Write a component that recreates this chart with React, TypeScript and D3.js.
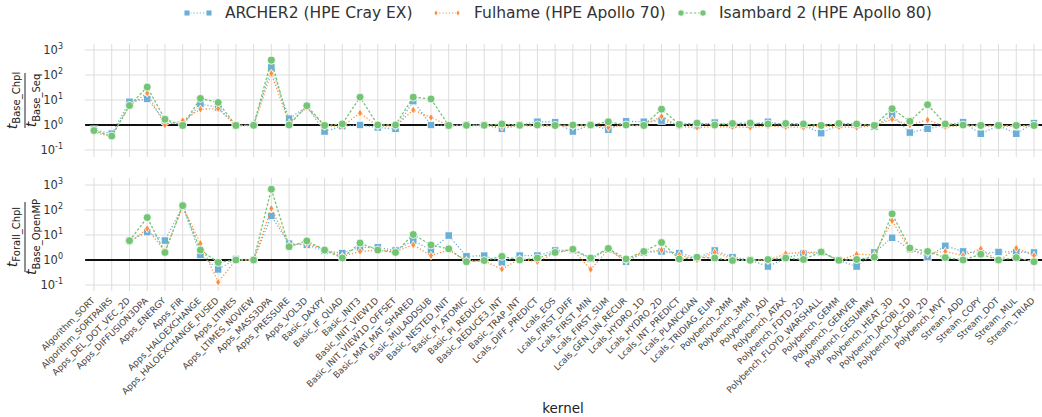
import React from 'react';
import * as d3 from 'd3';

// kernels on the x axis
const kernels = [
  'Algorithm_SORT', 'Algorithm_SORTPAIRS', 'Apps_DEL_DOT_VEC_2D', 'Apps_DIFFUSION3DPA', 'Apps_ENERGY',
  'Apps_FIR', 'Apps_HALOEXCHANGE', 'Apps_HALOEXCHANGE_FUSED', 'Apps_LTIMES', 'Apps_LTIMES_NOVIEW',
  'Apps_MASS3DPA', 'Apps_PRESSURE', 'Apps_VOL3D', 'Basic_DAXPY', 'Basic_IF_QUAD', 'Basic_INIT3',
  'Basic_INIT_VIEW1D', 'Basic_INIT_VIEW1D_OFFSET', 'Basic_MAT_MAT_SHARED', 'Basic_MULADDSUB',
  'Basic_NESTED_INIT', 'Basic_PI_ATOMIC', 'Basic_PI_REDUCE', 'Basic_REDUCE3_INT', 'Basic_TRAP_INT',
  'Lcals_DIFF_PREDICT', 'Lcals_EOS', 'Lcals_FIRST_DIFF', 'Lcals_FIRST_MIN', 'Lcals_FIRST_SUM',
  'Lcals_GEN_LIN_RECUR', 'Lcals_HYDRO_1D', 'Lcals_HYDRO_2D', 'Lcals_INT_PREDICT', 'Lcals_PLANCKIAN',
  'Lcals_TRIDIAG_ELIM', 'Polybench_2MM', 'Polybench_3MM', 'Polybench_ADI', 'Polybench_ATAX',
  'Polybench_FDTD_2D', 'Polybench_FLOYD_WARSHALL', 'Polybench_GEMM', 'Polybench_GEMVER',
  'Polybench_GESUMMV', 'Polybench_HEAT_3D', 'Polybench_JACOBI_1D', 'Polybench_JACOBI_2D',
  'Polybench_MVT', 'Stream_ADD', 'Stream_COPY', 'Stream_DOT', 'Stream_MUL', 'Stream_TRIAD',
];

// top panel: t_Base_Chpl / t_Base_Seq
const archerBase = [
  0.65, 0.45, 8.5, 11, 1.5, 1.0, 7, 5, 0.95, 1.0, 200, 1.8, 5.5, 0.55, 0.9, 1.0, 0.8, 0.7, 9, 1.0,
  0.95, 1.0, 1.0, 0.7, 1.0, 1.35, 1.3, 0.55, 1.0, 0.65, 1.4, 1.35, 1.5, 1.0, 0.95, 1.25, 1.0, 1.0,
  1.35, 1.0, 1.0, 0.47, 1.0, 1.0, 0.85, 2.5, 0.5, 0.7, 1.0, 1.3, 0.45, 0.95, 0.45, 1.2,
];
const fulhameBase = [
  0.5, 0.35, 6, 19, 1.0, 1.5, 4.3, 4.5, 0.95, 0.95, 115, 1.2, 5, 0.9, 0.9, 3.0, 0.9, 0.9, 4, 2.0,
  0.95, 0.95, 0.95, 0.85, 0.95, 0.9, 0.9, 0.9, 0.95, 0.8, 0.95, 0.95, 2.2, 0.85, 0.8, 0.85, 0.85, 0.8,
  0.9, 0.85, 0.8, 0.9, 0.85, 0.8, 0.95, 1.7, 1.0, 1.6, 0.85, 0.95, 0.9, 0.9, 0.9, 0.95,
];
const isambardBase = [
  0.6, 0.36, 6, 33, 1.7, 0.95, 11.5, 8, 0.95, 0.97, 390, 1.0, 5.9, 0.95, 1.1, 13, 1.0, 1.0, 13, 11,
  0.95, 0.97, 0.97, 1.1, 0.97, 1.0, 0.95, 1.0, 1.0, 1.35, 1.0, 0.95, 4.3, 1.05, 1.2, 1.0, 1.15, 1.2,
  1.1, 1.15, 1.1, 0.95, 1.15, 1.1, 0.95, 4.5, 1.4, 6.5, 1.1, 1.0, 0.95, 0.95, 0.95, 0.95,
];

// bottom panel: t_Forall_Chpl / t_Base_OpenMP
const archerForall = [
  null, null, 6, 13, 6, 140, 1.6, 0.42, 1.1, 1.0, 58, 4.5, 4, 2.3, 1.9, 3.2, 3.2, 2.4, 6, 2.5,
  9.5, 1.4, 1.5, 0.8, 1.5, 1.5, 2.4, 2.5, 1.1, 2.7, 0.85, 2.0, 2.2, 1.9, 1.2, 2.4, 1.3, 1.0,
  0.55, 1.2, 1.8, 2.0, 0.97, 0.55, 2.0, 7.8, 2.7, 1.35, 3.7, 2.2, 1.8, 2.1, 2.1, 2.0,
];
const fulhameForall = [
  null, null, 5, 18, 2.2, 140, 4.6, 0.13, 1.0, 1.0, 115, 4, 4.5, 2.8, 1.4, 2.2, 2.5, 2.2, 4, 1.5,
  2.5, 0.95, 0.9, 0.43, 1.1, 0.85, 1.9, 2.6, 0.42, 2.6, 0.95, 2.1, 2.5, 1.6, 1.0, 2.0, 1.1, 1.0,
  0.95, 1.8, 2.0, 2.1, 0.95, 1.7, 1.6, 37, 2.5, 1.8, 2.2, 1.5, 2.8, 0.9, 3.0, 1.5,
];
const isambardForall = [
  null, null, 5.9, 50, 2.0, 150, 2.5, 0.8, 1.0, 1.0, 680, 3.4, 5.8, 2.5, 1.2, 4.8, 2.5, 2.0, 10.5, 4,
  2.8, 0.85, 0.95, 1.4, 1.0, 1.2, 2.0, 2.7, 1.2, 2.9, 1.1, 2.2, 5, 1.1, 1.3, 1.2, 0.95, 0.97,
  1.05, 1.2, 1.05, 2.1, 0.97, 1.05, 1.3, 70, 3.0, 2.2, 1.25, 1.0, 1.7, 1.0, 1.25, 0.85,
];

const seriesNames = ['ARCHER2 (HPE Cray EX)', 'Fulhame (HPE Apollo 70)', 'Isambard 2 (HPE Apollo 80)'];
const seriesColors = ['#6baed6', '#fd8d3c', '#74c476'];
const seriesMarkers = ['square', 'diamond', 'circle'];
const seriesDash = ['1.2,2', '1.2,2', '2.5,1.8'];
const yTickValues = [0.1, 1, 10, 100, 1000];

const W = 1042, H = 417;
const grid = '#dddddd';
const font = '"DejaVu Sans", sans-serif';

const x = d3.scaleLinear().domain([-0.5, kernels.length - 0.5]).range([85.13, 1042.87]);

const panels = [
  {
    y: d3.scaleLog().domain([10 ** -1.28, 10 ** 3.24]).range([157, 44]),
    data: [archerBase, fulhameBase, isambardBase],
    num: 'Base_Chpl', den: 'Base_Seq', labelY: 100.5, bar: 55,
  },
  {
    y: d3.scaleLog().domain([10 ** -1.24, 10 ** 3.28]).range([291, 178]),
    data: [archerForall, fulhameForall, isambardForall],
    num: 'Forall_Chpl', den: 'Base_OpenMP', labelY: 237, bar: 70,
  },
];

function Marker({ kind, cx, cy, color, s = 1 }: { kind: string; cx: number; cy: number; color: string; s?: number }) {
  if (kind === 'square') {
    const h = 3.7 * s;
    return <rect x={cx - h} y={cy - h} width={2 * h} height={2 * h} fill={color} stroke="#fff" strokeWidth={0.8} />;
  }
  if (kind === 'diamond') {
    const w = 2.4 * s, h = 4.2 * s;
    return <path d={`M${cx},${cy - h}L${cx + w},${cy}L${cx},${cy + h}L${cx - w},${cy}Z`} fill={color} stroke="#fff" strokeWidth={0.8} />;
  }
  return <circle cx={cx} cy={cy} r={4 * s} fill={color} stroke="#fff" strokeWidth={0.8} />;
}

function Panel({ p }: { p: typeof panels[number] }) {
  const [y0, y1] = p.y.range();
  const line = d3.line<number | null>()
    .defined(d => d != null)
    .x((_, i) => x(i))
    .y(d => p.y(d as number));
  return (
    <g>
      {kernels.map((k, i) => (
        <line key={k} x1={x(i)} x2={x(i)} y1={y1} y2={y0} stroke={grid} strokeWidth={1} />
      ))}
      {yTickValues.map(v => (
        <g key={v}>
          <line x1={x.range()[0]} x2={x.range()[1]} y1={p.y(v)} y2={p.y(v)} stroke={grid} strokeWidth={1} />
          <text x={63} y={p.y(v) + 4} textAnchor="end" fontFamily={font} fontSize={11.5} fill="#333">
            10
            <tspan dy={-5} fontSize={8}>{Math.round(Math.log10(v))}</tspan>
          </text>
        </g>
      ))}
      <line x1={x.range()[0]} x2={x.range()[1]} y1={p.y(1)} y2={p.y(1)} stroke="#111" strokeWidth={2} />
      {p.data.map((vals, s) => (
        <g key={s}>
          <path d={line(vals) || ''} fill="none" stroke={seriesColors[s]} strokeWidth={1.3} strokeDasharray={seriesDash[s]} />
          {vals.map((v, i) => v == null ? null : (
            <Marker key={i} kind={seriesMarkers[s]} cx={x(i)} cy={p.y(v)} color={seriesColors[s]} />
          ))}
        </g>
      ))}
      <g transform={`translate(25,${p.labelY}) rotate(-90)`} fontFamily={font} fill="#222">
        <text x={0} y={-8} textAnchor="middle">
          <tspan fontStyle="italic" fontSize={14}>t</tspan>
          <tspan fontSize={10} dy={3}>{p.num}</tspan>
        </text>
        <line x1={-p.bar / 2} x2={p.bar / 2} y1={0} y2={0} stroke="#222" strokeWidth={1} />
        <text x={0} y={11} textAnchor="middle">
          <tspan fontStyle="italic" fontSize={14}>t</tspan>
          <tspan fontSize={10} dy={3.5}>{p.den}</tspan>
        </text>
      </g>
    </g>
  );
}

const legendX = [187, 436, 681];

export default function App() {
  return (
    <div style={{ position: 'absolute', left: 0, top: 0 }}>
      <svg width={W} height={H} style={{ display: 'block', background: '#fff' }}>
        {panels.map((p, i) => <Panel key={i} p={p} />)}
        {kernels.map((k, i) => (
          <text key={k} transform={`translate(${x(i) - 1},299) rotate(-45)`} textAnchor="end" dy="0.35em"
            fontFamily={font} fontSize={8.8} fill="#444">{k}</text>
        ))}
        <text x={563} y={413} textAnchor="middle" fontFamily={font} fontSize={13.5} fill="#222">kernel</text>
        {seriesNames.map((n, s) => (
          <g key={n}>
            <line x1={legendX[s]} x2={legendX[s] + 22} y1={13} y2={13} stroke={seriesColors[s]} strokeWidth={1.2} strokeDasharray={seriesDash[s]} />
            <Marker kind={seriesMarkers[s]} cx={legendX[s]} cy={13} color={seriesColors[s]} s={0.8} />
            <Marker kind={seriesMarkers[s]} cx={legendX[s] + 22} cy={13} color={seriesColors[s]} s={0.8} />
            <text x={legendX[s] + 38} y={18} fontFamily={font} fontSize={15.5} fill="#333">{n}</text>
          </g>
        ))}
      </svg>
    </div>
  );
}
